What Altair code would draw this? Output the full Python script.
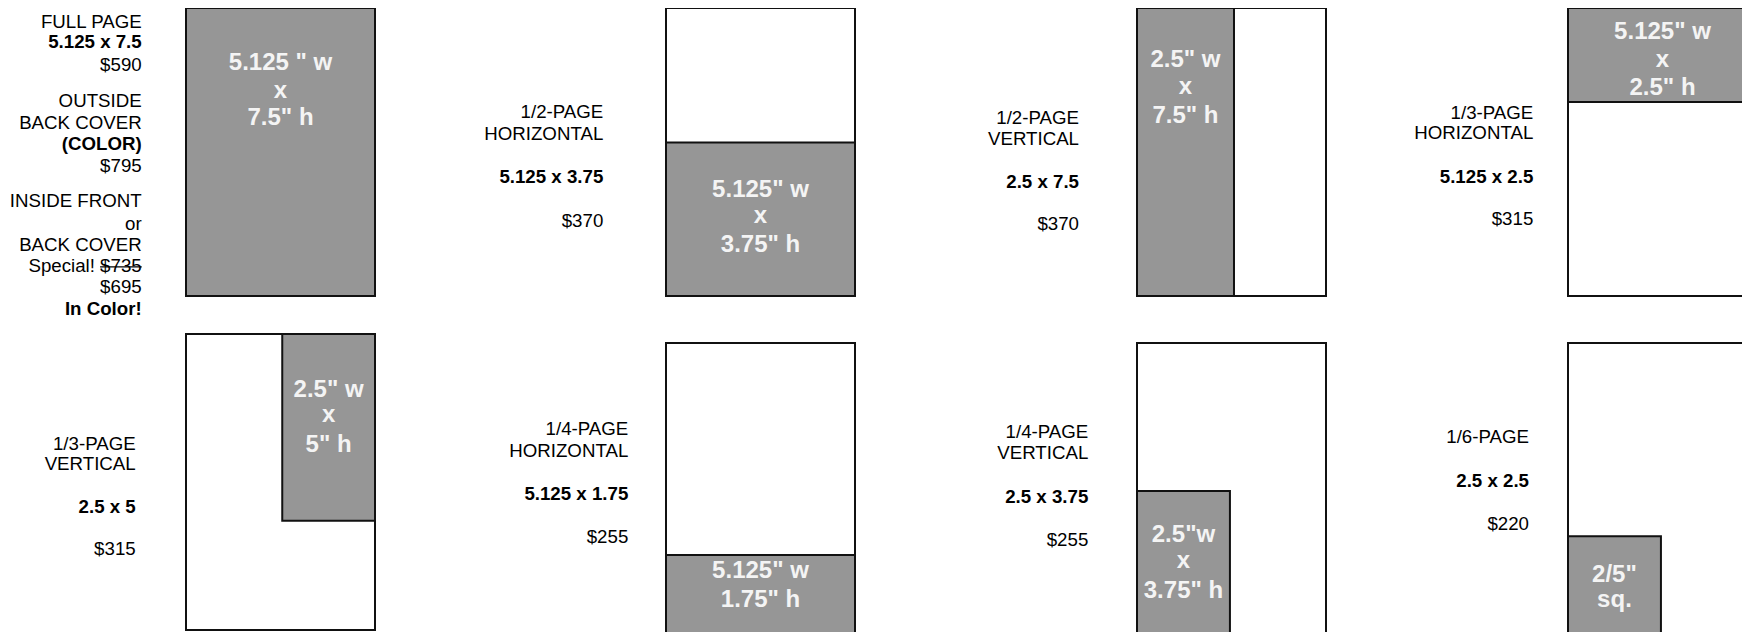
import altair as alt
import pandas as pd

# ---------------- data ----------------
ad_sizes = ["FULL PAGE", "1/2-PAGE HORIZONTAL", "1/2-PAGE VERTICAL", "1/3-PAGE HORIZONTAL",
            "1/3-PAGE VERTICAL", "1/4-PAGE HORIZONTAL", "1/4-PAGE VERTICAL", "1/6-PAGE"]
page_w_in = 5.125
page_h_in = 7.5
# grey ad area inside the page, in inches from the page's top-left corner
ad_x0 = [0, 0, 0, 0, 2.61, 0, 0, 0]
ad_x1 = [5.125, 5.125, 2.63, 5.125, 5.125, 5.125, 2.52, 2.52]
ad_y0 = [0, 3.5, 0, 0, 0, 5.48, 3.83, 5.0]
ad_y1 = [7.5, 7.5, 7.5, 2.45, 4.73, 7.5, 7.5, 7.5]

# left-hand description texts
label_text = [
    ["FULL PAGE", "5.125 x 7.5", "$590", "OUTSIDE", "BACK COVER", "(COLOR)", "$795",
     "INSIDE FRONT", "or", "BACK COVER", "Special! $735", "$695", "In Color!"],
    ["1/2-PAGE", "HORIZONTAL", "5.125 x 3.75", "$370"],
    ["1/2-PAGE", "VERTICAL", "2.5 x 7.5", "$370"],
    ["1/3-PAGE", "HORIZONTAL", "5.125 x 2.5", "$315"],
    ["1/3-PAGE", "VERTICAL", "2.5  x 5", "$315"],
    ["1/4-PAGE", "HORIZONTAL", "5.125 x 1.75", "$255"],
    ["1/4-PAGE", "VERTICAL", "2.5 x 3.75", "$255"],
    ["1/6-PAGE", "2.5 x 2.5", "$220"],
]
label_bold = [
    [0, 1, 0, 0, 0, 1, 0, 0, 0, 0, 0, 0, 1],
    [0, 0, 1, 0],
    [0, 0, 1, 0],
    [0, 0, 1, 0],
    [0, 0, 1, 0],
    [0, 0, 1, 0],
    [0, 0, 1, 0],
    [0, 1, 0],
]
struck_price = "$735"

# white texts inside the grey ad areas
inner_text = [
    ['5.125 " w', "x", '7.5" h'],
    ['5.125" w', "x", '3.75" h'],
    ['2.5" w', "x", '7.5" h'],
    ['5.125" w', "x", '2.5" h'],
    ['2.5" w', "x", '5" h'],
    ['5.125" w', '1.75" h'],
    ['2.5"w', "x", '3.75" h'],
    ['2/5"', "sq."],
]

# ---------------- layout (pixels of the 1750x632 page) ----------------
panel_left = [186, 666, 1137, 1568, 186, 666, 1137, 1568]
panel_top = [8, 8, 8, 8, 334, 343, 343, 343]
panel_w = 189
panel_h = [288, 288, 288, 288, 296, 290, 290, 290]
label_right = [141.7, 603.3, 1079, 1533.3, 135.7, 628.3, 1088.3, 1529]
label_base = [
    [28.3, 48.3, 71.2, 106.7, 129.3, 149.8, 171.5, 207.3, 229.5, 250.7, 272.3, 293.3, 315],
    [118.3, 140, 183.3, 226.7],
    [124.3, 145, 188.3, 230],
    [119.3, 139.3, 182.7, 225],
    [450, 470, 512.7, 555],
    [435, 456.7, 500, 542.7],
    [438.3, 459.3, 502.7, 546],
    [443.3, 486.7, 530],
]
inner_base = [
    [70, 98, 125],
    [196.7, 223.3, 251.7],
    [66.7, 94, 123.3],
    [39.3, 66.7, 94.5],
    [396.7, 421.7, 451.7],
    [578.3, 606.7],
    [541.7, 568.3, 598.3],
    [581.7, 607],
]
FONT = "Liberation Sans"
LABEL_SIZE = 18.7
INNER_SIZE = 24
STROKE = "#111111"
GREY = "#969696"

# ---------------- build tables ----------------
pages, ads, labels, inners = [], [], [], []
for i, name in enumerate(ad_sizes):
    L, T, W, H = panel_left[i], panel_top[i], panel_w, panel_h[i]
    pages.append(dict(name=name, x=L, x2=L + W, y=T, y2=T + H))
    ax0 = L + ad_x0[i] / page_w_in * W
    ax1 = L + ad_x1[i] / page_w_in * W
    ay0 = T + ad_y0[i] / page_h_in * H
    ay1 = T + ad_y1[i] / page_h_in * H
    ads.append(dict(name=name, x=ax0, x2=ax1, y=ay0, y2=ay1))
    for t, b, yb in zip(label_text[i], label_bold[i], label_base[i]):
        labels.append(dict(text=t, bold=b, x=label_right[i], y=yb))
    cx = (ax0 + ax1) / 2
    for t, yb in zip(inner_text[i], inner_base[i]):
        inners.append(dict(text=t, x=cx, y=yb))

pages = pd.DataFrame(pages)
ads = pd.DataFrame(ads)
labels = pd.DataFrame(labels)
inners = pd.DataFrame(inners)

# strike-through line over the old price
strike_row = labels[labels.text.str.endswith(struck_price)].iloc[0]
strike_w = LABEL_SIZE * 0.556 * len(struck_price)
strike = pd.DataFrame([dict(x=strike_row.x - strike_w, x2=strike_row.x,
                            y=strike_row.y - LABEL_SIZE * 0.29)])

CW, CH = 1734, 624
xs = alt.Scale(domain=[8, 8 + CW], nice=False, zero=False)
ys = alt.Scale(domain=[8, 8 + CH], nice=False, zero=False, reverse=True)
X = lambda f="x": alt.X(f"{f}:Q", scale=xs, axis=None)
Y = lambda f="y": alt.Y(f"{f}:Q", scale=ys, axis=None)

page_layer = alt.Chart(pages).mark_rect(fill="white", stroke=STROKE, strokeWidth=2).encode(
    x=X(), x2="x2:Q", y=Y(), y2="y2:Q")
ad_layer = alt.Chart(ads).mark_rect(fill=GREY, stroke=STROKE, strokeWidth=2).encode(
    x=X(), x2="x2:Q", y=Y(), y2="y2:Q")

label_norm = alt.Chart(labels[labels.bold == 0]).mark_text(
    align="right", baseline="alphabetic", font=FONT, fontSize=LABEL_SIZE, color="#000000"
).encode(x=X(), y=Y(), text="text:N")
label_bold_layer = alt.Chart(labels[labels.bold == 1]).mark_text(
    align="right", baseline="alphabetic", font=FONT, fontSize=LABEL_SIZE, fontWeight="bold",
    color="#000000"
).encode(x=X(), y=Y(), text="text:N")

strike_layer = alt.Chart(strike).mark_rule(color="#000000", strokeWidth=1.3).encode(
    x=X(), x2="x2:Q", y=Y())

inner_layer = alt.Chart(inners).mark_text(
    align="center", baseline="alphabetic", font=FONT, fontSize=INNER_SIZE, fontWeight="bold",
    color="#f4f4f4"
).encode(x=X(), y=Y(), text="text:N")

chart = alt.layer(
    page_layer, ad_layer, label_norm, label_bold_layer, strike_layer, inner_layer
).properties(
    width=CW, height=CH, padding=0, autosize="none"
).configure_view(strokeWidth=0)

chart.save("out.html", embed_options={"renderer": "svg", "actions": False})
